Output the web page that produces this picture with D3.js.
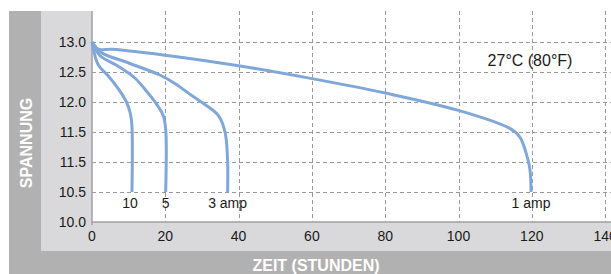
<!DOCTYPE html>
<html>
<head>
<meta charset="utf-8">
<script src="https://cdn.jsdelivr.net/npm/d3@7"></script>
<style>
  body { margin: 0; background: #fff; }
  text { font-family: "Liberation Sans", Arial, sans-serif; }
</style>
</head>
<body>
<div id="chart"></div>
<script>
const width = 611, height = 274;

// values
const xTicks = [0, 20, 40, 60, 80, 100, 120, 140];
const yTicks = [10.0, 10.5, 11.0, 11.5, 12.0, 12.5, 13.0];
const yTickLabels = ["10.0", "10.5", "11.5", "11.5", "12.0", "12.5", "13.0"];

const hours1 = [0, 1.7, 5.5, 22.6, 40.4, 60, 80, 100, 114, 116.7, 118.5, 119.5, 119.8];
const volts1 = [13.0, 12.88, 12.88, 12.76, 12.6, 12.39, 12.15, 11.86, 11.56, 11.42, 11.14, 10.87, 10.5];
const hours3 = [0, 2.4, 10, 18.5, 22.6, 27.6, 31, 34.4, 36.3, 37, 37];
const volts3 = [13.0, 12.83, 12.65, 12.45, 12.31, 12.09, 11.95, 11.78, 11.5, 11.0, 10.5];
const hours5 = [0, 2.2, 7, 11.7, 15, 17.2, 19.4, 20.1, 20.1];
const volts5 = [13.0, 12.77, 12.6, 12.4, 12.17, 12.0, 11.78, 11.55, 10.5];
const hours10 = [0, 1.7, 4.5, 7.2, 9.4, 10.5, 10.9, 10.9];
const volts10 = [13.0, 12.62, 12.43, 12.22, 12.0, 11.8, 11.6, 10.5];

const seriesNames = ["1 amp", "3 amp", "5", "10"];
const seriesHours = [hours1, hours3, hours5, hours10];
const seriesVolts = [volts1, volts3, volts5, volts10];

const tempLabel = "27°C (80°F)";

const lineColor = "#7fa7d9";

const svg = d3.select("#chart").append("svg")
    .attr("width", width)
    .attr("height", height);

// background frame
svg.append("rect").attr("x", 9).attr("y", 11).attr("width", width - 9).attr("height", height - 11).attr("fill", "#b1b1b1");
svg.append("rect").attr("x", 41).attr("y", 11).attr("width", width - 41).attr("height", 240).attr("fill", "#d9d9db");

const plotLeft = 92, plotTop = 11, plotBottom = 222;

const x = d3.scaleLinear().domain([0, 140]).range([plotLeft, plotLeft + 7 * 73.3]);
const y = d3.scaleLinear().domain([10, 13]).range([plotBottom, 42]);

svg.append("rect").attr("x", plotLeft).attr("y", plotTop)
    .attr("width", width - plotLeft).attr("height", plotBottom - plotTop).attr("fill", "#fff");

// grid
const grid = svg.append("g").attr("stroke", "#9a9a9a").attr("stroke-width", 1).attr("stroke-dasharray", "4,3");
grid.selectAll(".v").data(xTicks.filter(d => d > 0)).enter().append("line")
    .attr("x1", d => Math.round(x(d)) + 0.5).attr("x2", d => Math.round(x(d)) + 0.5)
    .attr("y1", plotTop).attr("y2", plotBottom);
grid.selectAll(".h").data(yTicks.filter(d => d > 10)).enter().append("line")
    .attr("y1", d => Math.round(y(d)) + 0.5).attr("y2", d => Math.round(y(d)) + 0.5)
    .attr("x1", plotLeft).attr("x2", width);

// axes lines
svg.append("line").attr("x1", plotLeft).attr("x2", plotLeft).attr("y1", plotTop).attr("y2", plotBottom + 3)
    .attr("stroke", "#a0a0a0").attr("stroke-width", 1.5);
svg.append("line").attr("x1", plotLeft).attr("x2", width).attr("y1", plotBottom).attr("y2", plotBottom)
    .attr("stroke", "#a0a0a0").attr("stroke-width", 1.5);

// tick labels
svg.append("g").selectAll("text").data(yTicks).enter().append("text")
    .attr("x", 86).attr("y", d => y(d)).attr("dy", "0.33em")
    .attr("text-anchor", "end").attr("font-size", 14).attr("fill", "#1a1a1a")
    .text((d, i) => yTickLabels[i]);
svg.append("g").selectAll("text").data(xTicks).enter().append("text")
    .attr("x", d => x(d)).attr("y", 241)
    .attr("text-anchor", "middle").attr("font-size", 14).attr("fill", "#1a1a1a")
    .text(d => d);

// curves
const line = d3.line()
    .x(d => x(d[0])).y(d => y(d[1]))
    .curve(d3.curveCatmullRom.alpha(0.5));

seriesNames.forEach(function(name, i) {
    const pts = seriesHours[i].map((h, j) => [h, seriesVolts[i][j]]);
    svg.append("path")
        .datum(pts)
        .attr("d", line)
        .attr("fill", "none")
        .attr("stroke", lineColor)
        .attr("stroke-width", 3)
        .attr("stroke-linejoin", "round");
    const last = pts[pts.length - 1];
    svg.append("text")
        .attr("x", x(last[0]) + (name === "10" ? -2 : 0))
        .attr("y", y(last[1]) + 16)
        .attr("text-anchor", "middle").attr("font-size", 14).attr("fill", "#1a1a1a")
        .text(name);
});

svg.append("text").attr("x", 530).attr("y", 66).attr("text-anchor", "middle")
    .attr("font-size", 16).attr("fill", "#1a1a1a").text(tempLabel);

// axis titles
svg.append("text").attr("x", 316).attr("y", 271).attr("text-anchor", "middle")
    .attr("font-size", 16).attr("font-weight", "bold").attr("fill", "#fff")
    .text("ZEIT (STUNDEN)");
svg.append("text").attr("transform", "translate(32,143) rotate(-90)").attr("text-anchor", "middle")
    .attr("font-size", 16).attr("font-weight", "bold").attr("fill", "#fff")
    .text("SPANNUNG");
</script>
</body>
</html>
